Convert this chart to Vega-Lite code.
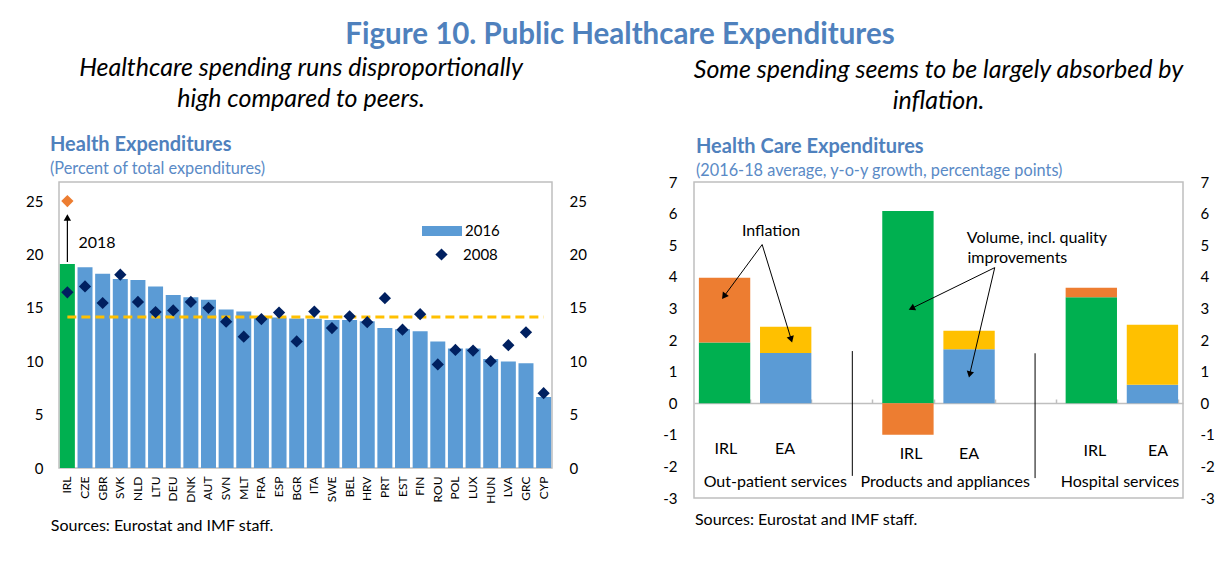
{
  "$schema": "https://vega.github.io/schema/vega-lite/v6.json",
  "background": "white",
  "padding": {"left": 24, "top": 20, "right": 5, "bottom": 5},
  "title": {"text": "Figure 10. Public Healthcare Expenditures", "font": "Lato", "fontSize": 29.5, "fontWeight": "bold", "color": "#4F81BD", "anchor": "middle", "offset": 5},
  "spacing": 73,
  "resolve": {"scale": {"color": "independent", "shape": "independent"}},
  "hconcat": [
    {
      "title": {"text": ["Healthcare spending runs disproportionally", "high compared to peers."], "font": "Lato", "fontSize": 25, "fontStyle": "italic", "fontWeight": "normal", "color": "black", "lineHeight": 31, "anchor": "middle", "offset": 22, "dx": -5},
      "vconcat": [
        {
          "title": {"text": "Sources: Eurostat and IMF staff.", "orient": "bottom", "anchor": "start", "font": "Lato", "fontSize": 16, "fontWeight": "normal", "color": "black", "offset": 14, "dx": 26},
          "vconcat": [
            {
              "width": 493,
              "height": 286,
              "title": {"text": "Health Expenditures", "subtitle": "(Percent of total expenditures)", "anchor": "start", "frame": "group", "dx": -9, "font": "Lato", "fontSize": 20, "fontWeight": "bold", "color": "#4F81BD", "subtitleFont": "Lato", "subtitleFontSize": 16.3, "subtitleColor": "#5A8AC6", "subtitlePadding": 6, "offset": 5},
              "data": {"values": [
                {"country": "IRL", "y2016": 19.1, "y2008": 16.45, "y2018": 25.0},
                {"country": "CZE", "y2016": 18.8, "y2008": 17.0},
                {"country": "GBR", "y2016": 18.2, "y2008": 15.45},
                {"country": "SVK", "y2016": 17.7, "y2008": 18.1},
                {"country": "NLD", "y2016": 17.6, "y2008": 15.55},
                {"country": "LTU", "y2016": 17.0, "y2008": 14.6},
                {"country": "DEU", "y2016": 16.2, "y2008": 14.75},
                {"country": "DNK", "y2016": 16.0, "y2008": 15.55},
                {"country": "AUT", "y2016": 15.75, "y2008": 15.0},
                {"country": "SVN", "y2016": 14.85, "y2008": 13.7},
                {"country": "MLT", "y2016": 14.65, "y2008": 12.3},
                {"country": "FRA", "y2016": 14.05, "y2008": 13.95},
                {"country": "ESP", "y2016": 14.1, "y2008": 14.55},
                {"country": "BGR", "y2016": 14.0, "y2008": 11.85},
                {"country": "ITA", "y2016": 13.97, "y2008": 14.65},
                {"country": "SWE", "y2016": 13.85, "y2008": 13.1},
                {"country": "BEL", "y2016": 13.85, "y2008": 14.2},
                {"country": "HRV", "y2016": 13.75, "y2008": 13.65},
                {"country": "PRT", "y2016": 13.1, "y2008": 15.9},
                {"country": "EST", "y2016": 13.0, "y2008": 12.95},
                {"country": "FIN", "y2016": 12.8, "y2008": 14.4},
                {"country": "ROU", "y2016": 11.85, "y2008": 9.7},
                {"country": "POL", "y2016": 11.2, "y2008": 11.05},
                {"country": "LUX", "y2016": 11.2, "y2008": 11.0},
                {"country": "HUN", "y2016": 10.2, "y2008": 10.0},
                {"country": "LVA", "y2016": 9.97, "y2008": 11.5},
                {"country": "GRC", "y2016": 9.8, "y2008": 12.7},
                {"country": "CYP", "y2016": 6.65, "y2008": 7.0}
              ]},
              "layer": [
                {
                  "mark": {"type": "bar"},
                  "encoding": {
                    "x": {"field": "country", "type": "nominal", "sort": null,
                      "scale": {"domain": ["IRL","CZE","GBR","SVK","NLD","LTU","DEU","DNK","AUT","SVN","MLT","FRA","ESP","BGR","ITA","SWE","BEL","HRV","PRT","EST","FIN","ROU","POL","LUX","HUN","LVA","GRC","CYP"], "paddingInner": 0.15, "paddingOuter": 0.05},
                      "axis": {"title": null, "labelAngle": -90, "labelFontSize": 12, "labelPadding": 8, "ticks": false, "domain": false}},
                    "y": {"field": "y2016", "type": "quantitative", "scale": {"domain": [0, 26.78], "nice": false},
                      "axis": {"orient": "left", "title": null, "values": [0, 5, 10, 15, 20, 25], "grid": false, "domain": false, "ticks": false, "labelFontSize": 15, "labelPadding": 16}},
                    "color": {"condition": {"test": "datum.country === 'IRL'", "value": "#00B050"}, "datum": "2016", "type": "nominal",
                      "scale": {"domain": ["2016"], "range": ["#5B9BD5"]},
                      "legend": {"orient": "none", "legendX": 363, "legendY": 29, "title": null, "symbolType": "M-1,-0.25H1V0.25H-1Z", "symbolSize": 1600, "symbolStrokeWidth": 0, "labelFontSize": 15, "labelOffset": 3, "padding": 0}}
                  }
                },
                {
                  "data": {"values": [{"from": "IRL", "to": "CYP", "avg": 14.15}]},
                  "mark": {"type": "rule", "color": "#FFC000", "strokeWidth": 3, "strokeDash": [9, 5]},
                  "encoding": {
                    "x": {"field": "from", "type": "nominal"},
                    "x2": {"field": "to"},
                    "y": {"field": "avg", "type": "quantitative", "axis": null}
                  }
                },
                {
                  "mark": {"type": "point", "filled": true, "size": 150, "color": "#002060", "opacity": 1},
                  "encoding": {
                    "x": {"field": "country", "type": "nominal"},
                    "y": {"field": "y2008", "type": "quantitative",
                      "axis": {"orient": "right", "title": null, "values": [0, 5, 10, 15, 20, 25], "grid": false, "domain": false, "ticks": false, "labelFontSize": 15, "labelPadding": 17}},
                    "shape": {"datum": "2008", "type": "nominal", "scale": {"domain": ["2008"], "range": ["diamond"]},
                      "legend": {"orient": "none", "legendX": 375, "legendY": 65, "title": null, "symbolSize": 150, "symbolFillColor": "#002060", "symbolStrokeWidth": 0, "labelFontSize": 15, "labelOffset": 14, "padding": 0}}
                  }
                },
                {
                  "transform": [{"filter": "datum.y2018 != null"}],
                  "mark": {"type": "point", "filled": true, "size": 150, "color": "#ED7D31", "shape": "diamond", "opacity": 1},
                  "encoding": {
                    "x": {"field": "country", "type": "nominal"},
                    "y": {"field": "y2018", "type": "quantitative", "axis": null}
                  }
                },
                {
                  "data": {"values": [{"country": "IRL", "from": 19.3, "to": 23.45, "label": "2018", "labelAt": 21.1}]},
                  "layer": [
                    {
                      "mark": {"type": "rule", "color": "black", "strokeWidth": 1.2},
                      "encoding": {
                        "x": {"field": "country", "type": "nominal"},
                        "y": {"field": "from", "type": "quantitative", "axis": null},
                        "y2": {"field": "to"}
                      }
                    },
                    {
                      "mark": {"type": "point", "shape": "triangle-up", "filled": true, "color": "black", "size": 55, "opacity": 1},
                      "encoding": {
                        "x": {"field": "country", "type": "nominal"},
                        "y": {"field": "to", "type": "quantitative", "axis": null}
                      }
                    },
                    {
                      "mark": {"type": "text", "align": "left", "dx": 11, "fontSize": 16, "color": "black"},
                      "encoding": {
                        "x": {"field": "country", "type": "nominal"},
                        "y": {"field": "labelAt", "type": "quantitative", "axis": null},
                        "text": {"field": "label"}
                      }
                    }
                  ]
                }
              ],
              "resolve": {"axis": {"y": "independent"}}
            }
          ]
        }
      ]
    },
    {
      "title": {"text": ["Some spending seems to be largely absorbed by", "inflation."], "font": "Lato", "fontSize": 25, "fontStyle": "italic", "fontWeight": "normal", "color": "black", "lineHeight": 31, "anchor": "middle", "offset": 22},
      "vconcat": [
        {
          "title": {"text": "Sources: Eurostat and IMF staff.", "orient": "bottom", "anchor": "start", "font": "Lato", "fontSize": 16, "fontWeight": "normal", "color": "black", "offset": 5, "dx": 33},
          "vconcat": [
            {
              "width": 489,
              "height": 316,
              "title": {"text": "Health Care Expenditures", "subtitle": "(2016-18 average, y-o-y growth, percentage points)", "anchor": "start", "frame": "group", "dx": 2, "font": "Lato", "fontSize": 20, "fontWeight": "bold", "color": "#4F81BD", "subtitleFont": "Lato", "subtitleFontSize": 16.3, "subtitleColor": "#5A8AC6", "subtitlePadding": 6, "offset": -4},
              "layer": [
                {
                  "data": {"values": [
                    {"slot": "o_IRL", "series": "IRL volume", "component": "Volume", "value": 1.92},
                    {"slot": "o_IRL", "series": "IRL inflation", "component": "Inflation", "value": 2.05},
                    {"slot": "o_EA", "series": "EA volume", "component": "Volume", "value": 1.59},
                    {"slot": "o_EA", "series": "EA inflation", "component": "Inflation", "value": 0.83},
                    {"slot": "p_IRL", "series": "IRL volume", "component": "Volume", "value": 6.08},
                    {"slot": "p_IRL", "series": "IRL inflation", "component": "Inflation", "value": -1.0},
                    {"slot": "p_EA", "series": "EA volume", "component": "Volume", "value": 1.71},
                    {"slot": "p_EA", "series": "EA inflation", "component": "Inflation", "value": 0.58},
                    {"slot": "h_IRL", "series": "IRL volume", "component": "Volume", "value": 3.35},
                    {"slot": "h_IRL", "series": "IRL inflation", "component": "Inflation", "value": 0.3},
                    {"slot": "h_EA", "series": "EA volume", "component": "Volume", "value": 0.58},
                    {"slot": "h_EA", "series": "EA inflation", "component": "Inflation", "value": 1.9}
                  ]},
                  "mark": {"type": "bar"},
                  "encoding": {
                    "x": {"field": "slot", "type": "nominal",
                      "scale": {"domain": ["o_IRL","o_EA","gap1","p_IRL","p_EA","gap2","h_IRL","h_EA"], "paddingInner": 0.16, "paddingOuter": 0.08},
                      "axis": {"title": null, "labels": false, "offset": -95, "domainColor": "#BFBFBF", "domainWidth": 1.5, "tickBand": "extent", "tickSize": -4, "tickColor": "#BFBFBF", "tickWidth": 1.5}},
                    "y": {"field": "value", "type": "quantitative", "stack": "zero", "scale": {"domain": [-3, 7], "nice": false},
                      "axis": {"orient": "left", "title": null, "values": [-3,-2,-1,0,1,2,3,4,5,6,7], "labelExpr": "'' + datum.value", "grid": false, "domain": false, "ticks": false, "labelFontSize": 15, "labelPadding": 17}},
                    "color": {"field": "series", "type": "nominal", "scale": {"domain": ["IRL volume","IRL inflation","EA volume","EA inflation"], "range": ["#00B050","#ED7D31","#5B9BD5","#FFC000"]}, "legend": null},
                    "order": {"field": "component", "sort": "descending"}
                  }
                },
                {
                  "data": {"values": [{"x": 2.59, "top": 1.65, "bottom": -2.3}, {"x": 5.58, "top": 1.58, "bottom": -2.37}]},
                  "mark": {"type": "rule", "color": "black", "strokeWidth": 1},
                  "encoding": {
                    "x": {"field": "x", "type": "quantitative", "scale": {"domain": [0, 8], "nice": false, "zero": false}, "axis": null},
                    "y": {"field": "top", "type": "quantitative",
                      "axis": {"orient": "right", "title": null, "values": [-3,-2,-1,0,1,2,3,4,5,6,7], "labelExpr": "'' + datum.value", "grid": false, "domain": false, "ticks": false, "labelFontSize": 15, "labelPadding": 17}},
                    "y2": {"field": "bottom"}
                  }
                },
                {
                  "layer": [
                    {
                      "data": {"values": [
                        {"text": "IRL", "x": 0.52, "y": -1.45},
                        {"text": "EA", "x": 1.49, "y": -1.45},
                        {"text": "IRL", "x": 3.55, "y": -1.61},
                        {"text": "EA", "x": 4.5, "y": -1.61},
                        {"text": "IRL", "x": 6.56, "y": -1.51},
                        {"text": "EA", "x": 7.59, "y": -1.51},
                        {"text": "Out-patient services", "x": 1.33, "y": -2.5},
                        {"text": "Products and appliances", "x": 4.11, "y": -2.5},
                        {"text": "Hospital services", "x": 6.97, "y": -2.5},
                        {"text": "Inflation", "x": 1.26, "y": 5.44},
                        {"text": "Volume, incl. quality", "x": 5.61, "y": 5.22},
                        {"text": "improvements", "x": 5.29, "y": 4.59}
                      ]},
                      "mark": {"type": "text", "fontSize": 16, "color": "black"},
                      "encoding": {
                        "x": {"field": "x", "type": "quantitative", "scale": {"domain": [0, 8], "nice": false, "zero": false}, "axis": null},
                        "y": {"field": "y", "type": "quantitative", "axis": null},
                        "text": {"field": "text"}
                      }
                    },
                    {
                      "data": {"values": [
                        {"id": "a1", "x": 1.115, "y": 5.02, "x2": 0.49, "y2": 3.38},
                        {"id": "a2", "x": 1.115, "y": 5.02, "x2": 1.59, "y2": 2.02},
                        {"id": "a3", "x": 4.92, "y": 4.29, "x2": 3.56, "y2": 3.0},
                        {"id": "a4", "x": 4.92, "y": 4.29, "x2": 4.51, "y2": 0.91}
                      ]},
                      "layer": [
                        {
                          "mark": {"type": "rule", "color": "black", "strokeWidth": 1},
                          "encoding": {
                            "x": {"field": "x", "type": "quantitative", "axis": null},
                            "x2": {"field": "x2"},
                            "y": {"field": "y", "type": "quantitative", "axis": null},
                            "y2": {"field": "y2"}
                          }
                        },
                        {
                          "transform": [{"filter": "datum.id === 'a1'"}],
                          "mark": {"type": "point", "shape": "triangle-up", "filled": true, "color": "black", "size": 55, "opacity": 1, "angle": 216},
                          "encoding": {"x": {"field": "x2", "type": "quantitative", "axis": null}, "y": {"field": "y2", "type": "quantitative", "axis": null}}
                        },
                        {
                          "transform": [{"filter": "datum.id === 'a2'"}],
                          "mark": {"type": "point", "shape": "triangle-up", "filled": true, "color": "black", "size": 55, "opacity": 1, "angle": 163},
                          "encoding": {"x": {"field": "x2", "type": "quantitative", "axis": null}, "y": {"field": "y2", "type": "quantitative", "axis": null}}
                        },
                        {
                          "transform": [{"filter": "datum.id === 'a3'"}],
                          "mark": {"type": "point", "shape": "triangle-up", "filled": true, "color": "black", "size": 55, "opacity": 1, "angle": 244},
                          "encoding": {"x": {"field": "x2", "type": "quantitative", "axis": null}, "y": {"field": "y2", "type": "quantitative", "axis": null}}
                        },
                        {
                          "transform": [{"filter": "datum.id === 'a4'"}],
                          "mark": {"type": "point", "shape": "triangle-up", "filled": true, "color": "black", "size": 55, "opacity": 1, "angle": 193},
                          "encoding": {"x": {"field": "x2", "type": "quantitative", "axis": null}, "y": {"field": "y2", "type": "quantitative", "axis": null}}
                        }
                      ]
                    }
                  ]
                }
              ],
              "resolve": {"scale": {"x": "independent"}, "axis": {"y": "independent", "x": "independent"}}
            }
          ]
        }
      ]
    }
  ],
  "config": {
    "font": "Lato",
    "view": {"stroke": "#BFBFBF", "strokeWidth": 1.5},
    "axis": {"labelFont": "Lato", "labelColor": "black"},
    "legend": {"labelFont": "Lato", "labelColor": "black"},
    "text": {"font": "Lato"}
  }
}
